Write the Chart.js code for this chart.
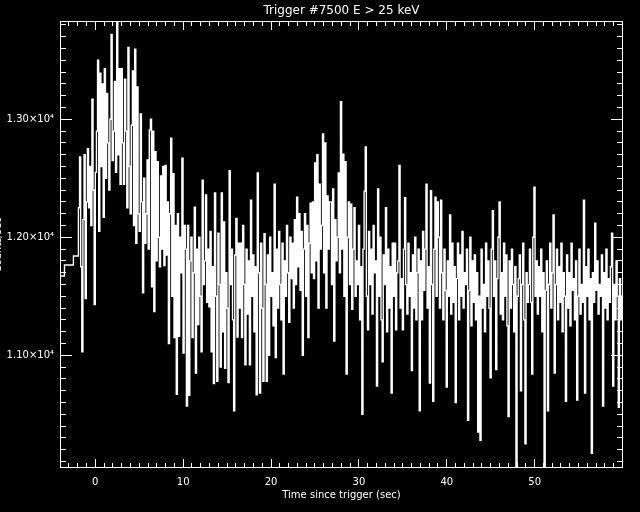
<!DOCTYPE html>
<html>
<head>
<meta charset="utf-8">
<script src="https://cdn.jsdelivr.net/npm/chart.js@4.4.0/dist/chart.umd.min.js"></script>
<style>
  html, body { margin: 0; padding: 0; background: #000; }
</style>
</head>
<body>
<canvas id="c" width="640" height="512"></canvas>
<script>
// ---- data (counts/sec) ----
const chartTitle = 'Trigger #7500 E > 25 keV';
const xTitle = 'Time since trigger (sec)';
const yTitle = 'Counts/sec';

// coarse 1.024 s pre-trigger bins (bin start time, rate)
const preTriggerTimes = [-4.53, -3.51, -2.49];
const preTriggerRates = [11672, 11765, 11842];

// fine binned data, starting at fineStartTime, width fineBinWidth
const fineStartTime = -1.92;
const fineBinWidth = 0.128;
const fineRates = [
  12250, 12680, 11750, 11030, 12150, 12700, 11480, 12300,
  12750, 12250, 12600, 12100, 13170, 12400, 11430, 12550,
  12900, 13500, 12050, 13390, 12600, 13300, 12170, 13430,
  12500, 13220, 12800, 12400, 13000, 13720, 12650, 12900,
  13320, 12550, 13829, 12700, 13430, 12450, 13430, 12800,
  12450, 13340, 12900, 12250, 13610, 12600, 12200, 12950,
  13410, 12100, 13595, 11950, 13275, 12200, 12050, 13045,
  12300, 11530, 12500, 11950, 12200, 12655, 11900, 12910,
  13000, 11580, 12900, 11370, 12725, 11800, 12640, 12000,
  11750, 12520, 11900, 12600, 11760, 12610, 11850, 12300,
  11100, 12200, 12840, 11500, 12540, 11150, 12100, 10670,
  12200, 11160, 12000, 11700, 12670, 11020, 12100, 11900,
  10570, 12100, 10660, 11800, 12000, 11150, 11700, 12255,
  10850, 11900, 11260, 12000, 11500, 11030, 12485, 11600,
  11800, 12360, 11450, 11900, 11410, 12050, 11030, 11750,
  10760, 12375, 11500, 10780, 12035, 11600, 10900, 12375,
  11200, 12130, 10890, 11700, 11400, 10770, 12565, 11600,
  11900, 11300, 10530, 11850, 12160, 11155, 11950, 11400,
  11950, 11150, 12100, 11600, 10920, 11900, 11350, 11800,
  10920, 12315, 11500, 11850, 11200, 11750, 10665, 12545,
  11700, 10680, 11950, 11400, 10780, 12030, 11600, 10780,
  11850, 11000, 12000, 11500, 11700, 11250, 12450, 10980,
  11900, 11400, 12050, 11600, 11300, 11950, 10840, 11800,
  11500, 12100, 11700, 11280, 12000, 11650, 11950, 11400,
  12150, 11600, 12340, 11750, 12200, 11550, 12050, 11000,
  11900, 12200, 11500, 12100, 11150, 11950, 12290, 11700,
  12300, 11650, 12630, 11800, 12700, 11400, 12450, 11900,
  12100, 12875, 11700, 12800, 11400, 12350, 11900, 12300,
  12300, 11600, 12410, 11120, 12150, 11800, 12000, 12545,
  11700, 13150, 11900, 12705, 11500, 12640, 10840, 12000,
  12300, 11600, 12280, 11390, 11900, 12250, 11500, 11800,
  11600, 12100, 11300, 11750, 10500, 11900, 12390, 12765,
  11500, 11215, 12050, 11600, 11900, 11350, 12100, 11700,
  11800, 10740, 12410, 11500, 12000, 11300, 10945, 11850,
  11600, 12250, 11200, 11900, 11400, 11750, 10680, 11950,
  11500, 11950, 11215, 11700, 11800, 12610, 11400, 11650,
  11215, 11900, 12335, 11600, 11350, 11950, 11500, 11700,
  10870, 11850, 11400, 12000, 11300, 11700, 11900, 10530,
  11800, 11300, 12050, 11550, 11900, 12450, 11400, 11750,
  10765, 12395, 11600, 10610, 11900, 12340, 11500, 12300,
  12000, 11400, 12315, 11700, 11300, 11900, 11550, 10730,
  11800, 11500, 12190, 11350, 11950, 11450, 11750, 10600,
  11650, 11950, 11300, 11850, 11500, 12050, 11400, 11700,
  11600, 11900, 10450, 11550, 12000, 11250, 11800, 11450,
  11850, 11300, 11700, 10350, 11500, 10280, 11900, 11400,
  11600, 11200, 11950, 11500, 11800, 11400, 10810, 11900,
  12225, 11500, 11800, 10880, 11650, 12000, 12300, 11350,
  11700, 11300, 11950, 11500, 11850, 11250, 10480, 11800,
  11400, 11900, 11600, 11200, 11750, 10060, 11500, 11650,
  11850, 10700, 11600, 11950, 11300, 10250, 11700, 11450,
  11600, 11900, 11450, 10840, 12000, 12425, 11500, 11800,
  11350, 11750, 11500, 11900, 11200, 11700, 10060, 11550,
  11800, 10530, 11600, 11950, 11400, 11700, 12190, 10850,
  11600, 11900, 11300, 11750, 11450, 11950, 11200, 11700,
  11500, 10610, 11850, 11400, 11700, 11250, 11950, 11550,
  11650, 11300, 11800, 10620, 11500, 11900, 11350, 11600,
  11450, 12315, 10680, 11750, 11500, 11900, 11300, 11650,
  10170, 11700, 11450, 12120, 11550, 11800, 11350, 11600,
  11500, 11850, 10570, 11700, 11400, 11900, 11300, 11650,
  11450, 11750, 12035, 10740, 11600, 11300, 11800, 11500,
  10560, 11650, 11300, 11500, 11200
];

const xTickValues = [0, 10, 20, 30, 40, 50];
const yTickValues = [11000, 12000, 13000];
const xMinorStep = 1;
const yMinorStep = 100;

// ---- build step points ----
const points = [];
preTriggerTimes.forEach((t, i) => points.push({x: t, y: preTriggerRates[i]}));
fineRates.forEach((v, i) => points.push({x: fineStartTime + i * fineBinWidth, y: v}));
points.push({x: fineStartTime + fineRates.length * fineBinWidth, y: fineRates[fineRates.length - 1]});

const FONT = 'DejaVu Sans';

const bgPlugin = {
  id: 'bg',
  beforeDraw(chart) {
    const ctx = chart.ctx;
    ctx.save();
    ctx.fillStyle = '#000';
    ctx.fillRect(0, 0, chart.width, chart.height);
    ctx.restore();
  }
};

const framePlugin = {
  id: 'frame',
  afterDraw(chart) {
    const ctx = chart.ctx;
    const a = chart.chartArea;
    const xs = chart.scales.x, ys = chart.scales.y;
    const L = Math.floor(a.left), R = Math.floor(a.right);
    const T = Math.floor(a.top), B = Math.floor(a.bottom);
    ctx.save();
    ctx.fillStyle = '#fff';
    ctx.fillRect(L, T, R - L + 1, 1);
    ctx.fillRect(L, B, R - L + 1, 1);
    ctx.fillRect(L, T, 1, B - T + 1);
    ctx.fillRect(R, T, 1, B - T + 1);
    const x0 = Math.ceil(xs.min / xMinorStep) * xMinorStep;
    for (let i = 0; x0 + i * xMinorStep <= xs.max; i++) {
      const v = x0 + i * xMinorStep;
      const px = Math.floor(xs.getPixelForValue(v));
      const len = (Math.abs(v % 10) < 1e-9) ? 8 : 4;
      ctx.fillRect(px, B - len, 1, len);
      ctx.fillRect(px, T + 1, 1, len);
    }
    const y0 = Math.ceil(ys.min / yMinorStep) * yMinorStep;
    for (let i = 0; y0 + i * yMinorStep <= ys.max; i++) {
      const v = y0 + i * yMinorStep;
      const py = Math.floor(ys.getPixelForValue(v));
      const len = (v % 1000 === 0) ? 11 : 5;
      ctx.fillRect(L + 1, py, len, 1);
      ctx.fillRect(R - len, py, len, 1);
    }
    ctx.font = '10px "' + FONT + '"';
    ctx.textAlign = 'center';
    ctx.textBaseline = 'alphabetic';
    ctx.translate(0.8, 245);
    ctx.rotate(-Math.PI / 2);
    ctx.fillText(yTitle, 0, 0);
    ctx.restore();
  }
};

new Chart(document.getElementById('c'), {
  type: 'line',
  data: {
    datasets: [{
      data: points,
      borderColor: '#fff',
      borderWidth: 1.4,
      pointRadius: 0,
      stepped: 'before',
      fill: false
    }]
  },
  options: {
    responsive: false,
    animation: false,
    events: [],
    layout: { padding: { left: 0, right: 17.5, top: 0, bottom: 0 } },
    plugins: {
      legend: { display: false },
      tooltip: { enabled: false },
      title: {
        display: true,
        text: chartTitle,
        color: '#fff',
        fullSize: false,
        font: { family: FONT, size: 12, weight: 'normal', lineHeight: 1.2 },
        padding: { top: 4, bottom: 3.1 }
      }
    },
    scales: {
      x: {
        type: 'linear',
        min: -3.96,
        max: 60.0,
        grid: { display: false, drawTicks: false },
        border: { display: false },
        afterBuildTicks: s => { s.ticks = xTickValues.map(v => ({ value: v })); },
        afterFit: s => { s.height = 44.5; },
        ticks: {
          color: '#fff',
          autoSkip: false,
          maxRotation: 0,
          padding: 9,
          font: { family: FONT, size: 10 },
          callback: v => String(v)
        },
        title: {
          display: true,
          text: xTitle,
          color: '#fff',
          font: { family: FONT, size: 10 },
          padding: { top: 0, bottom: 10.5 }
        }
      },
      y: {
        type: 'linear',
        min: 10049,
        max: 13829,
        grid: { display: false, drawTicks: false },
        border: { display: false },
        afterBuildTicks: s => { s.ticks = yTickValues.map(v => ({ value: v })); },
        afterFit: s => { s.width = 60.5; },
        ticks: {
          color: '#fff',
          autoSkip: false,
          padding: 6.5,
          font: { family: FONT, size: 10 },
          callback: v => (v / 10000).toFixed(2) + '\u00d710\u2074'
        }
      }
    }
  },
  plugins: [bgPlugin, framePlugin]
});
</script>
</body>
</html>
